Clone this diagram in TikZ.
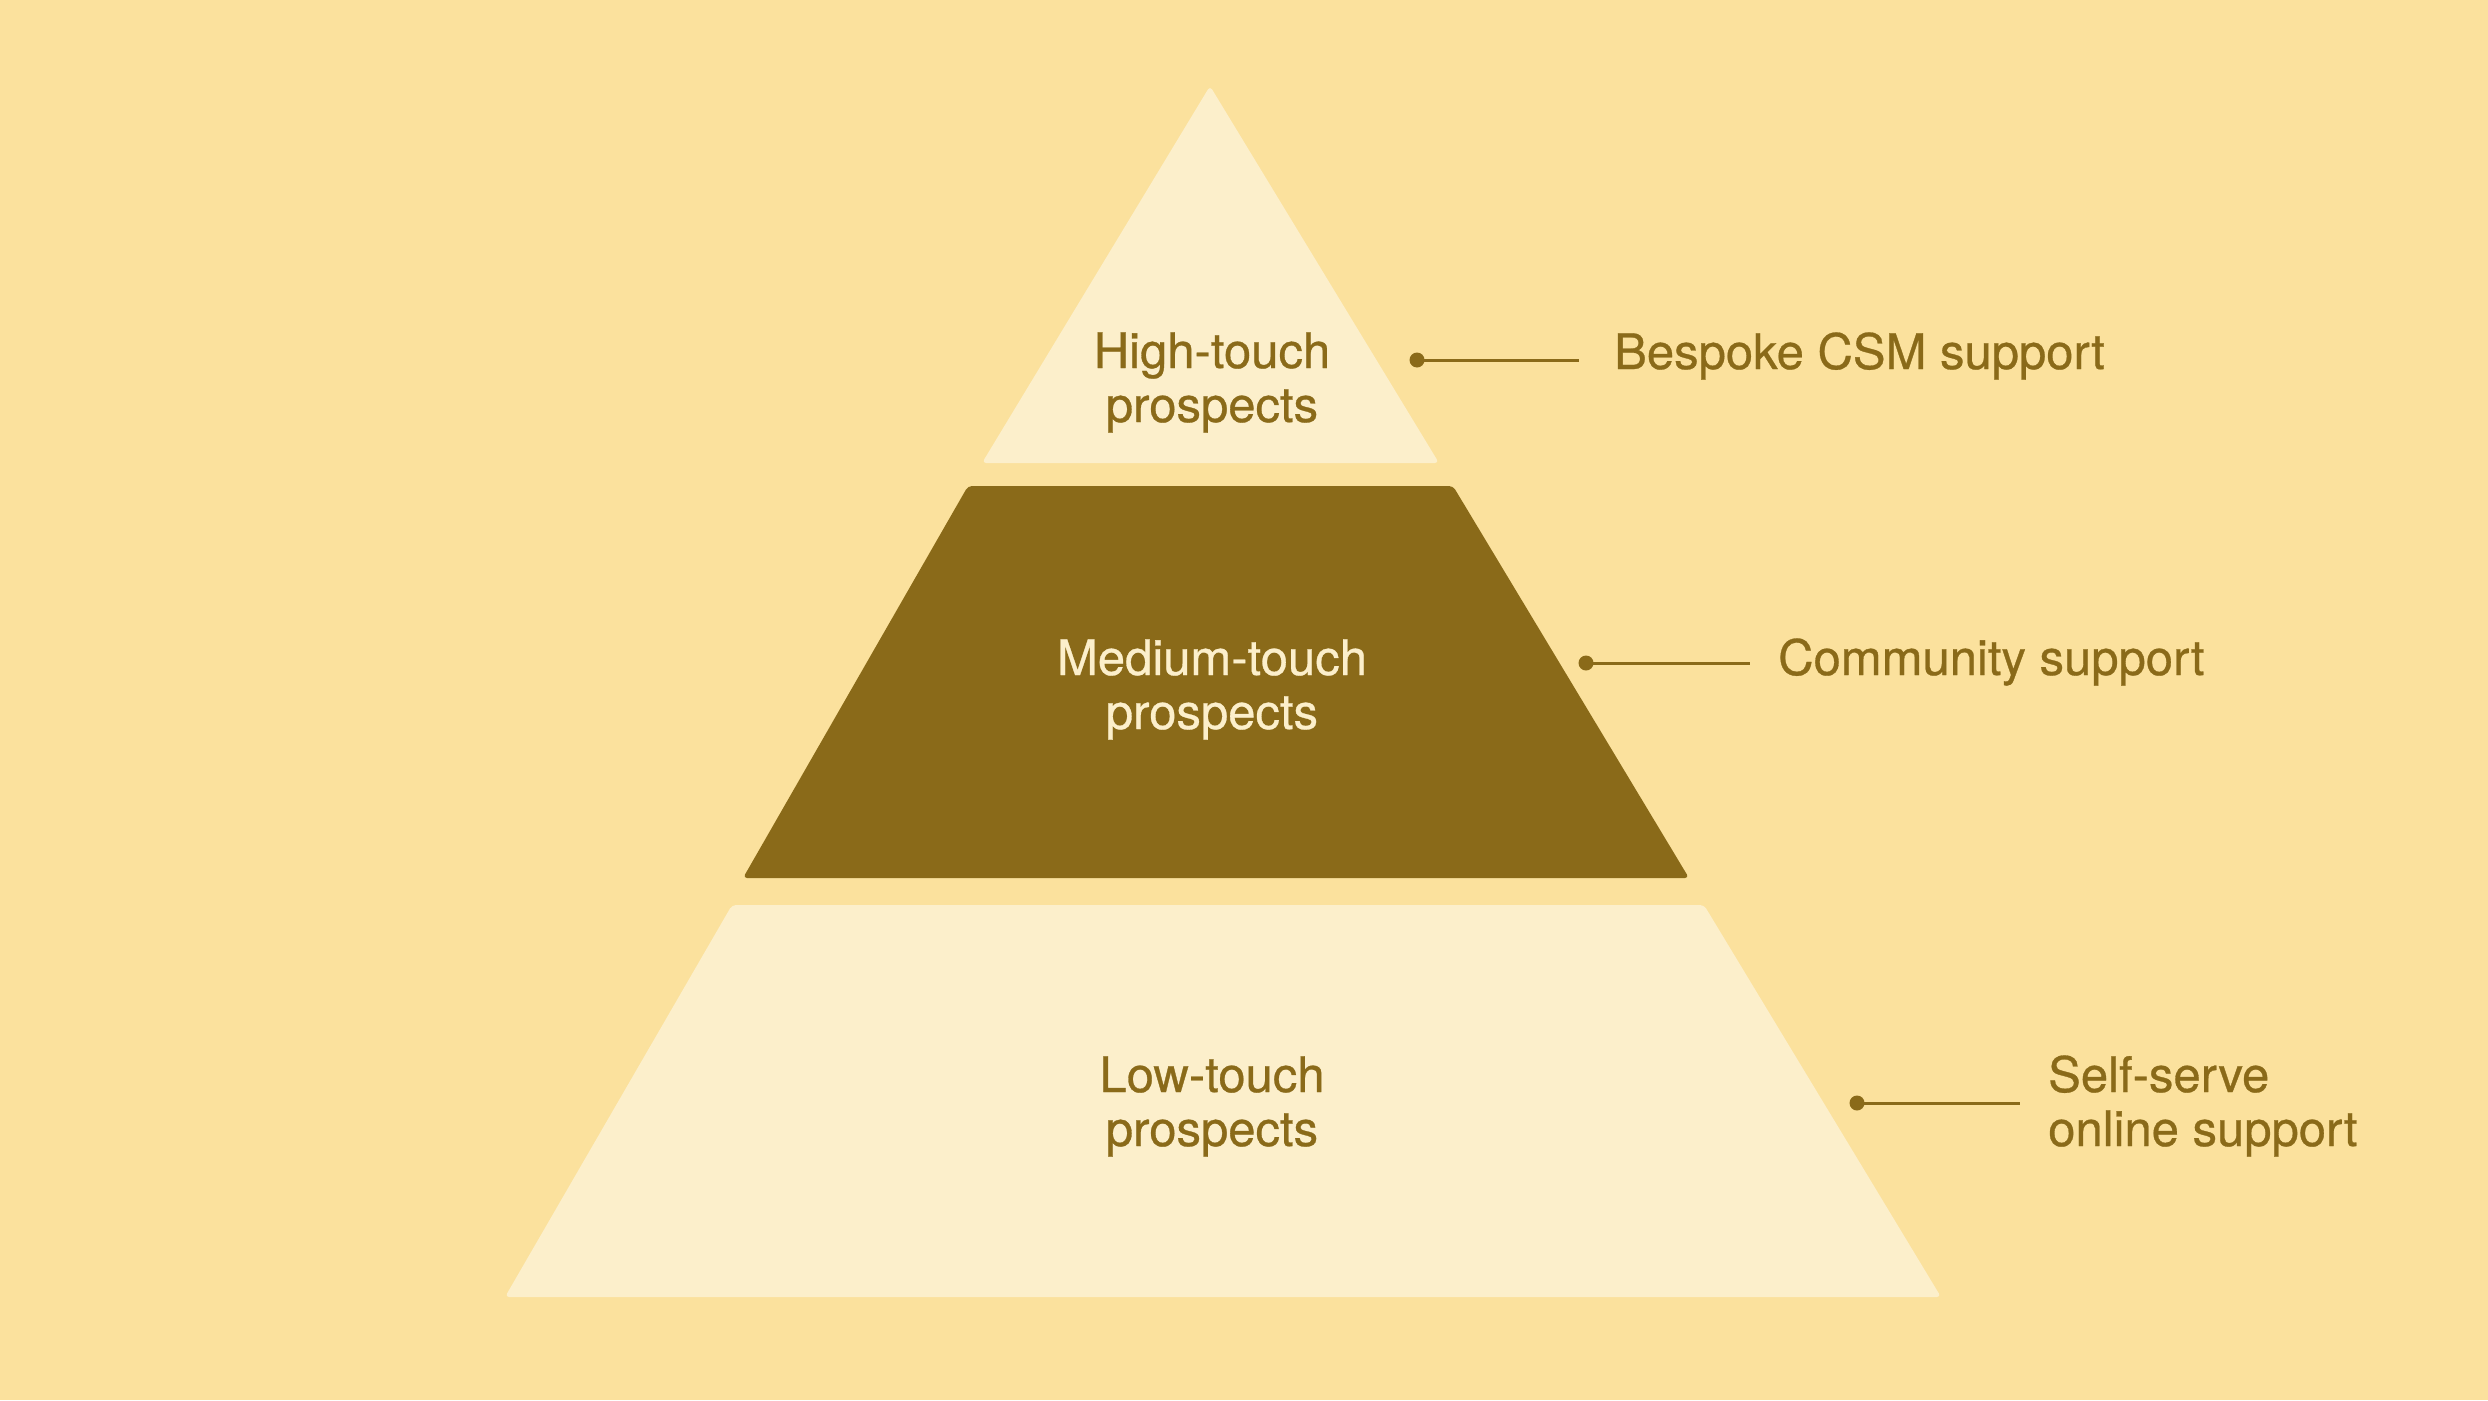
\documentclass[tikz,border=0pt]{standalone}
\usepackage{fontspec}
\setmainfont{TeX Gyre Heros}[FakeBold=0.6]
\definecolor{bgcol}{HTML}{FBE19D}
\definecolor{cream}{HTML}{FCEFCB}
\definecolor{brown}{HTML}{8A6A19}
\tikzset{
  band/.style={rounded corners=4pt},
  lbl/.style={font=\fontsize{49}{54}\selectfont, text=brown, inner sep=0pt, anchor=base},
  side/.style={lbl, align=left, anchor=base west},
  dotnode/.style={circle, fill=brown, minimum size=15pt, inner sep=0pt},
  conn/.style={draw=brown, line width=3pt}
}
\begin{document}
\begin{tikzpicture}[x=1pt,y=-1pt]
\fill[bgcol] (0,0) rectangle (2488,1400);
\useasboundingbox (0,0) rectangle (2488,1400);
% bands
\fill[cream, band] (1210,86) -- (1439,463) -- (982,463) -- cycle;
\fill[brown, band] (968,486) -- (1453,486) -- (1689,878) -- (743,878) -- cycle;
\fill[cream, band] (732,905) -- (1704,905) -- (1941,1297) -- (505,1297) -- cycle;
% band labels (anchor = baseline of last line)
\node[lbl, align=center] (high) at (1212,422) {High-touch\\prospects};
\node[lbl, align=center, text=cream] (med) at (1212,729) {Medium-touch\\prospects};
\node[lbl, align=center] (low) at (1212,1146) {Low-touch\\prospects};
% side labels
\node[side] (bespoke) at (1614,369) {Bespoke CSM support};
\node[side] (community) at (1778,675) {Community support};
\node[side] (selfserve) at (2048,1146) {Self-serve\\online support};
% connectors
\node[dotnode] (d1) at (1417,360) {};
\coordinate (e1) at (1579,360);
\draw[conn] (d1.center) -- (e1);
\node[dotnode] (d2) at (1586,663) {};
\coordinate (e2) at (1750,663);
\draw[conn] (d2.center) -- (e2);
\node[dotnode] (d3) at (1857,1103) {};
\coordinate (e3) at (2020,1103);
\draw[conn] (d3.center) -- (e3);
\end{tikzpicture}
\end{document}
